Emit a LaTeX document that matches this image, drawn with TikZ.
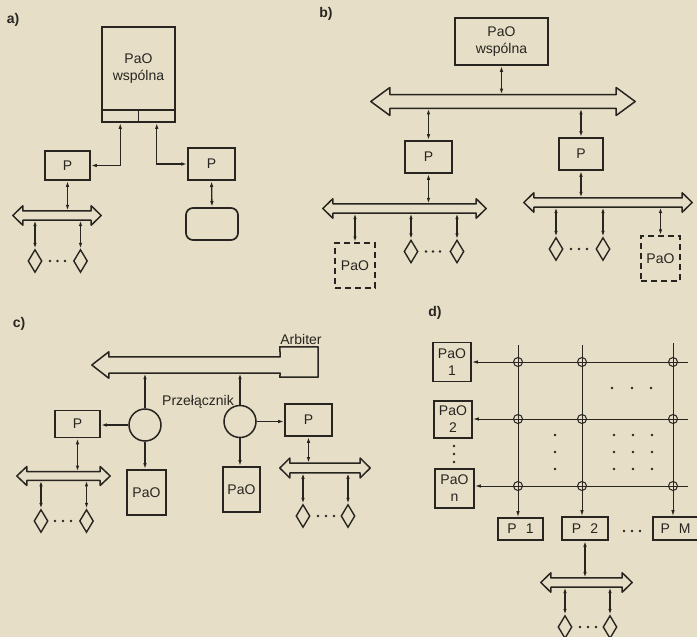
\documentclass[tikz,border=0pt]{standalone}
\usepackage{fontspec}
\setmainfont{Liberation Sans}
\usetikzlibrary{arrows.meta,calc,shapes.geometric}
\definecolor{paper}{RGB}{230,222,198}
\definecolor{ink}{RGB}{40,37,33}
\newcommand\lblfont{\fontsize{14}{17}\selectfont}
\newcommand\busdraw[3]{%
\draw[busline] ($(#1.north west)+(#2,0)$) -- ($(#1.north east)+(-#2,0)$) -- ++(0,-#3) -- (#1.east) -- ($(#1.south east)+(-#2,#3)$) -- ($(#1.south east)+(-#2,0)$) -- ($(#1.south west)+(#2,0)$) -- ++(0,#3) -- (#1.west) -- ($(#1.north west)+(#2,-#3)$) -- cycle;}
\newcommand\dotat[2]{\fill[ink] (#1,#2) circle (1.4pt);}
\begin{document}
\begin{tikzpicture}[x=1pt,y=-1pt,
  blk/.style={draw=ink, line width=1.7pt, inner sep=0pt, font=\lblfont, text=ink},
  dbox/.style={blk, line width=1.5pt, dash pattern=on 6pt off 4pt},
  txt/.style={inner sep=0pt, font=\lblfont, text=ink},
  lab/.style={inner sep=0pt, font=\lblfont\bfseries, text=ink},
  dia/.style={diamond, draw=ink, line width=1.4pt, minimum width=14pt, minimum height=23pt, inner sep=0pt},
  busn/.style={inner sep=0pt},
  busline/.style={draw=ink, line width=1.5pt, line join=round},
  sw/.style={circle, draw=ink, line width=1.5pt, minimum size=32pt, inner sep=0pt},
  xing/.style={circle, draw=ink, line width=1pt, minimum size=9pt, inner sep=0pt},
  cn/.style={draw=ink, line width=1.3pt, {Latex[length=6pt,width=3.5pt]}-{Latex[length=6pt,width=3.5pt]}},
  cnend/.style={draw=ink, line width=1.3pt, -{Latex[length=6pt,width=3.5pt]}},
  grid/.style={draw=ink, line width=1pt, -{Latex[length=6pt,width=3.5pt]}}
]
\useasboundingbox (0,0) rectangle (697,637);
\fill[paper] (0,0) rectangle (697,637);

% ---------------- a)
\node[lab] (la) at (13,20) {a)};
\node[blk, minimum width=73pt, minimum height=83pt, align=center] (ma) at (138.5,68.5) {PaO\\wspólna};
\node[blk, minimum width=36.5pt, minimum height=12pt] (ma1) at (120.25,116) {};
\node[blk, minimum width=36.5pt, minimum height=12pt] (ma2) at (156.75,116) {};
\node[blk, minimum width=45pt, minimum height=29pt] (pa1) at (67.5,165.5) {P};
\node[blk, minimum width=47pt, minimum height=32pt] (pa2) at (211.5,164) {P};
\node[blk, rounded corners=7pt, minimum width=52pt, minimum height=32pt] (ra) at (212,224) {};
\node[busn, minimum width=88pt, minimum height=9pt] (ba) at (57,215.5) {};
\busdraw{ba}{10}{5}
\node[dia] (da1) at (35,261) {};
\node[dia] (da2) at (80.5,261) {};
\dotat{50}{261}\dotat{57.5}{261}\dotat{65}{261}
\draw[cn] (ma1.south) |- (pa1.east);
\draw[cn] (ma2.south) |- (pa2.west);
\draw[cn] (pa2.south) -- (ra.north);
\draw[cn] (pa1.south) -- (pa1.south |- ba.north);
\draw[cn] (da1.north |- ba.south) -- (da1.north);
\draw[cn] (da2.north |- ba.south) -- (da2.north);

% ---------------- b)
\node[lab] (lb) at (326,14) {b)};
\node[blk, minimum width=93pt, minimum height=47pt, align=center] (mb) at (501.5,41.5) {PaO\\wspólna};
\node[busn, minimum width=264pt, minimum height=13.5pt] (bb) at (503,101.5) {};
\busdraw{bb}{19}{7}
\node[blk, minimum width=47pt, minimum height=32pt] (pb1) at (428.5,157) {P};
\node[blk, minimum width=44pt, minimum height=32pt] (pb2) at (581,154) {P};
\draw[cn] (mb.south) -- (mb.south |- bb.north);
\draw[cn] (pb1.north |- bb.south) -- (pb1.north);
\draw[cn] (pb2.north |- bb.south) -- (pb2.north);
\node[busn, minimum width=163pt, minimum height=9pt] (bb1) at (404.5,208.5) {};
\busdraw{bb1}{10}{5}
\node[busn, minimum width=168pt, minimum height=9pt] (bb2) at (608,202.5) {};
\busdraw{bb2}{10}{5}
\draw[cn] (pb1.south) -- (pb1.south |- bb1.north);
\draw[cn] (pb2.south) -- (pb2.south |- bb2.north);
\node[dbox, minimum width=40pt, minimum height=45pt] (mb1) at (355,265.5) {PaO};
\node[dia] (db1) at (411,251.5) {};
\node[dia] (db2) at (457,251.5) {};
\dotat{426}{251.5}\dotat{433}{251.5}\dotat{440}{251.5}
\node[dia] (db3) at (556,249) {};
\node[dia] (db4) at (603,249) {};
\dotat{571}{249}\dotat{579}{249}\dotat{587}{249}
\node[dbox, minimum width=39pt, minimum height=45pt] (mb2) at (660.5,258.5) {PaO};
\draw[cn] (mb1.north |- bb1.south) -- (mb1.north);
\draw[cn] (db1.north |- bb1.south) -- (db1.north);
\draw[cn] (db2.north |- bb1.south) -- (db2.north);
\draw[cn] (db3.north |- bb2.south) -- (db3.north);
\draw[cn] (db4.north |- bb2.south) -- (db4.north);
\draw[cn] (mb2.north |- bb2.south) -- (mb2.north);

% ---------------- c)
\node[lab] (lc) at (19,324) {c)};
\node[busn, minimum width=188pt, minimum height=16pt] (cb) at (186,365) {};
\node[busn, minimum width=38pt, minimum height=30pt] (arb) at (299,362) {};
\draw[busline] (cb.west) -- ($(cb.north west)+(17,-5)$) -- ($(cb.north west)+(17,0)$) -- (cb.north east) -- (arb.north west) -- (arb.north east) -- (arb.south east) -- (arb.south west) -- (cb.south east) -- ($(cb.south west)+(17,0)$) -- ($(cb.south west)+(17,5)$) -- cycle;
\node[txt] (arbl) at (301,339) {Arbiter};
\node[sw] (cl) at (145,425) {};
\node[sw] (cr) at (240,421.5) {};
\node[txt] (prz) at (198,402) {Przełącznik};
\node[blk, minimum width=45pt, minimum height=27pt] (pc1) at (77.5,424) {P};
\node[blk, minimum width=47pt, minimum height=32pt] (pc2) at (308.5,420) {P};
\node[blk, minimum width=39pt, minimum height=45pt] (mc1) at (146.5,492.5) {PaO};
\node[blk, minimum width=37pt, minimum height=45pt] (mc2) at (241.5,489.5) {PaO};
\draw[cnend] (cl.north) -- (cl.north |- cb.south);
\draw[cnend] (cr.north) -- (cr.north |- cb.south);
\draw[cnend] (cl.west) -- (cl.west -| pc1.east);
\draw[cnend] (cr.east) -- (cr.east -| pc2.west);
\draw[cnend] (cl.south) -- (cl.south |- mc1.north);
\draw[cnend] (cr.south) -- (cr.south |- mc2.north);
\node[busn, minimum width=93pt, minimum height=8.5pt] (cb1) at (63.5,476) {};
\busdraw{cb1}{10}{5}
\node[busn, minimum width=90pt, minimum height=9.5pt] (cb2) at (325,468) {};
\busdraw{cb2}{10}{5}
\draw[cn] (pc1.south) -- (pc1.south |- cb1.north);
\draw[cn] (pc2.south) -- (pc2.south |- cb2.north);
\node[dia] (dc1) at (41,521) {};
\node[dia] (dc2) at (86.5,521) {};
\node[dia] (dc3) at (303,516) {};
\node[dia] (dc4) at (348,516) {};
\dotat{55}{521}\dotat{63}{521}\dotat{71}{521}
\dotat{318}{516}\dotat{326}{516}\dotat{334}{516}
\draw[cn] (dc1.north |- cb1.south) -- (dc1.north);
\draw[cn] (dc2.north |- cb1.south) -- (dc2.north);
\draw[cn] (dc3.north |- cb2.south) -- (dc3.north);
\draw[cn] (dc4.north |- cb2.south) -- (dc4.north);

% ---------------- d)
\node[lab] (ld) at (435,313) {d)};
\node[blk, minimum width=38pt, minimum height=39pt, align=center] (md1) at (452,362) {PaO\\1};
\node[blk, minimum width=38pt, minimum height=37pt, align=center] (md2) at (453,419.5) {PaO\\2};
\node[blk, minimum width=39pt, minimum height=39pt, align=center] (mdn) at (454.5,488.5) {PaO\\n};
\node[blk, minimum width=45pt, minimum height=22pt] (pd1) at (520.5,529) {P\hspace{9pt}1};
\node[blk, minimum width=46pt, minimum height=23pt] (pd2) at (585,528.5) {P\hspace{9pt}2};
\node[blk, minimum width=45pt, minimum height=23pt] (pdm) at (675.5,528.5) {P\hspace{9pt}M};
\coordinate (re1) at (688,362);
\coordinate (re2) at (688,419);
\coordinate (ren) at (688,486);
\coordinate (ct1) at (518,345);
\coordinate (ct2) at (582,345);
\coordinate (ctm) at (673,343);
\draw[grid] (re1) -- (re1 -| md1.east);
\draw[grid] (re2) -- (re2 -| md2.east);
\draw[grid] (ren) -- (ren -| mdn.east);
\draw[grid] (ct1) -- (ct1 |- pd1.north);
\draw[grid] (ct2) -- (ct2 |- pd2.north);
\draw[grid] (ctm) -- (ctm |- pdm.north);
\foreach \cx [count=\i] in {518,582,673}{
  \foreach \cy [count=\j] in {362,419,486}{
    \node[xing] (x\i\j) at (\cx,\cy) {};
  }
}
\dotat{612}{388}\dotat{632}{388}\dotat{651}{388}
\foreach \cy in {435,452,469}{\dotat{555}{\cy}\dotat{614}{\cy}\dotat{633}{\cy}\dotat{652}{\cy}}
\dotat{454}{446}\dotat{454}{454}\dotat{454}{462}
\dotat{624}{531}\dotat{632}{531}\dotat{640}{531}
\node[busn, minimum width=91pt, minimum height=9pt] (bd) at (586.5,582.5) {};
\busdraw{bd}{10}{5}
\draw[cn] (pd2.south) -- (pd2.south |- bd.north);
\node[dia] (dd1) at (565,627) {};
\node[dia] (dd2) at (610,627) {};
\dotat{580}{627}\dotat{588}{627}\dotat{596}{627}
\draw[cn] (dd1.north |- bd.south) -- (dd1.north);
\draw[cn] (dd2.north |- bd.south) -- (dd2.north);
\end{tikzpicture}
\end{document}
